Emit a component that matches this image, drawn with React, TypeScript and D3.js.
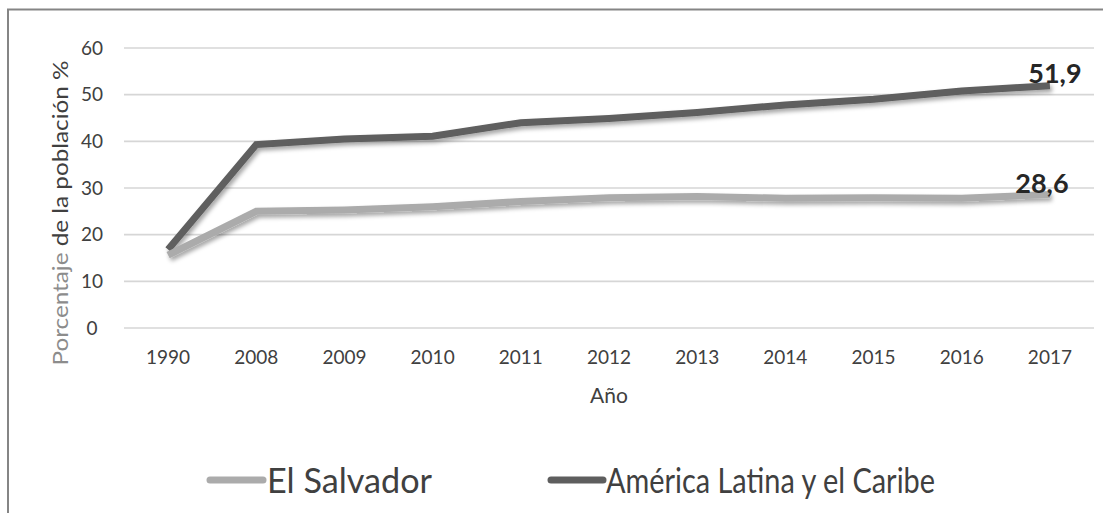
import React from "react";
import * as d3 from "d3";

const WIDTH = 1103;
const HEIGHT = 513;
const MARGIN = { top: 48, right: 6, bottom: 185, left: 124 };

const years = ["1990", "2008", "2009", "2010", "2011", "2012", "2013", "2014", "2015", "2016", "2017"];
const elSalvador = [15.6, 25.0, 25.3, 26.0, 27.1, 27.9, 28.2, 27.8, 27.9, 27.8, 28.6];
const americaLatina = [16.8, 39.3, 40.5, 41.1, 44.0, 44.9, 46.2, 47.8, 49.0, 50.8, 51.9];
const yTicks = [0, 10, 20, 30, 40, 50, 60];
const seriesNames = ["El Salvador", "América Latina y el Caribe"];

const FONT = "Lato, 'Open Sans', sans-serif";
const TEXT = "#404040";

const App = () => {
  const boundsWidth = WIDTH - MARGIN.left - MARGIN.right - 3;
  const boundsHeight = HEIGHT - MARGIN.top - MARGIN.bottom;

  const xScale = d3.scalePoint<string>().domain(years).range([0, boundsWidth]).padding(0.5);
  const yScale = d3.scaleLinear().domain([0, 60]).range([boundsHeight, 0]);

  const lineBuilder = d3
    .line<number>()
    .x((_, i) => xScale(years[i]) as number)
    .y((d) => yScale(d));

  const series = [
    { name: seriesNames[1], values: americaLatina, color: "#5e5e5e", labelDx: 5, labelDy: -3 },
    { name: seriesNames[0], values: elSalvador, color: "#ababab", labelDx: -8, labelDy: -2 },
  ];

  const last = years.length - 1;
  const fmt = (v: number) => v.toFixed(1).replace(".", ",");

  return (
    <svg
      width={WIDTH}
      height={HEIGHT}
      style={{ position: "absolute", left: 0, top: 0, background: "#fff" }}
    >
      <defs>
        <filter id="shadow" x="-10%" y="-20%" width="120%" height="160%">
          <feDropShadow dx="2" dy="3" stdDeviation="2" floodColor="#000" floodOpacity="0.35" />
        </filter>
      </defs>

      {/* frame */}
      <path d={`M8,${HEIGHT} V9.5 H${WIDTH}`} fill="none" stroke="#858585" strokeWidth={2} />

      {/* y title */}
      <text
        transform={`translate(68,213) rotate(-90)`}
        textAnchor="middle"
        fontFamily={FONT}
        fontSize={22}
        textLength={305}
        lengthAdjust="spacingAndGlyphs"
      >
        <tspan fill="#8c8c8c">Porcentaje </tspan>
        <tspan fill={TEXT}>de la población %</tspan>
      </text>

      <g transform={`translate(${MARGIN.left},${MARGIN.top})`}>
        {yTicks.map((t) => (
          <g key={t}>
            <line x1={0} x2={boundsWidth} y1={yScale(t)} y2={yScale(t)} stroke="#d6d6d6" strokeWidth={1.6} />
            <text
              x={-32}
              y={yScale(t)}
              dy="0.35em"
              textAnchor="middle"
              fontFamily={FONT}
              fontSize={19}
              fill={TEXT}
            >
              {t}
            </text>
          </g>
        ))}

        {years.map((y) => (
          <text
            key={y}
            x={xScale(y) as number}
            y={boundsHeight + 36}
            textAnchor="middle"
            fontFamily={FONT}
            fontSize={19}
            fill={TEXT}
          >
            {y}
          </text>
        ))}

        <text
          x={boundsWidth / 2}
          y={boundsHeight + 75}
          textAnchor="middle"
          fontFamily={FONT}
          fontSize={21}
          fill={TEXT}
        >
          Año
        </text>

        {series.map((s) => (
          <path
            key={s.name}
            d={lineBuilder(s.values) || ""}
            fill="none"
            stroke={s.color}
            strokeWidth={7}
            filter="url(#shadow)"
          />
        ))}

        {series.map((s) => (
          <text
            key={s.name + "-label"}
            x={(xScale(years[last]) as number) + s.labelDx}
            y={yScale(s.values[last]) + s.labelDy}
            textAnchor="middle"
            fontFamily={FONT}
            fontWeight="bold"
            fontSize={27}
            fill="#262626"
          >
            {fmt(s.values[last])}
          </text>
        ))}
      </g>

      {/* legend */}
      <g fontFamily={FONT} fontSize={34} fill={TEXT}>
        <line x1={210} x2={263} y1={480} y2={480} stroke="#ababab" strokeWidth={7} strokeLinecap="round" />
        <text x={267} y={493} textLength={165} lengthAdjust="spacingAndGlyphs">{seriesNames[0]}</text>
        <line x1={551} x2={603} y1={480} y2={480} stroke="#5e5e5e" strokeWidth={7} strokeLinecap="round" />
        <text x={606} y={493} textLength={329} lengthAdjust="spacingAndGlyphs">{seriesNames[1]}</text>
      </g>
    </svg>
  );
};

export default App;
